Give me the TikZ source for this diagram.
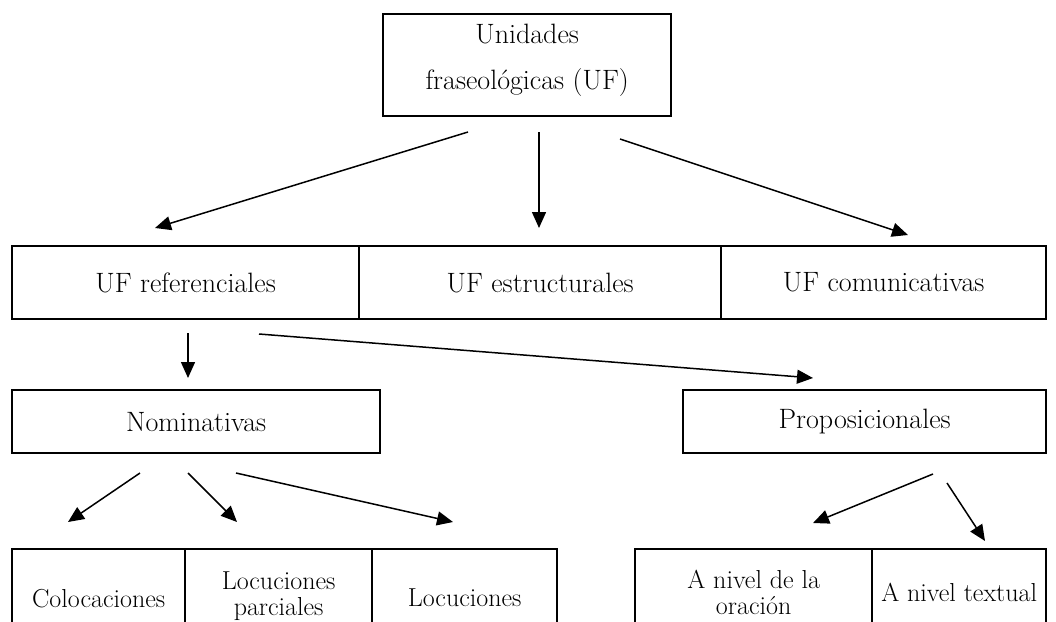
\documentclass[tikz,border=0pt]{standalone}
\usetikzlibrary{arrows.meta}

\tikzset{
  caja/.style={draw,line width=2.3pt,anchor=north west,inner sep=0pt,align=center,
    font=\fontsize{28}{25}\selectfont},
  cajita/.style={caja,font=\fontsize{26}{26}\selectfont},
  flecha/.style={-{Triangle[length=16pt,width=14pt]},line width=1.5pt}
}

\begin{document}
\begin{tikzpicture}[x=1pt,y=-1pt]
      \useasboundingbox (0,0) rectangle (1056,621);
      % Draw top box
      \node (uf) [caja,minimum width=288pt,minimum height=102pt] at (382,13)
      {Unidades\\[21pt]fraseológicas (UF)\rule[-17pt]{0pt}{1pt}};
      % Draw second row
      \node (ref) [caja,minimum width=347pt,minimum height=73pt] at (11,245) {UF referenciales};
      \node (est) [caja,minimum width=362pt,minimum height=73pt] at (358,245) {UF estructurales};
      \node (com) [caja,minimum width=325pt,minimum height=73pt] at (720,245) {UF comunicativas};
      % Draw third row
      \node (nom) [caja,minimum width=368pt,minimum height=63pt] at (11,389) {Nominativas};
      \node (pro) [caja,minimum width=363pt,minimum height=63pt] at (682,389) {Proposicionales};
      % Draw bottom row
      \node (col) [cajita,minimum width=173pt,minimum height=98pt] at (11,548) {Colocaciones};
      \node (lpa) [cajita,minimum width=187pt,minimum height=94pt] at (184,548) {Locuciones\\parciales};
      \node (loc) [cajita,minimum width=185pt,minimum height=98pt] at (371,548) {Locuciones};
      \node (ora) [cajita,minimum width=237pt,minimum height=86pt] at (634,548) {A nivel de la\\oración};
      \node (tex) [cajita,minimum width=174pt,minimum height=86pt] at (871,548) {A nivel textual};
      % Draw the box sides below the cut
      \draw[line width=2.3pt] (ora.south west) -- +(0,30) (ora.south east) -- +(0,30)
        (tex.south east) -- +(0,30) (lpa.south west) -- +(0,30) (lpa.south east) -- +(0,30);
      % Draw the arrow ends
      \coordinate (a1) at (468,132); \coordinate (a1e) at (155,228);
      \coordinate (a2) at (539,132); \coordinate (a2e) at (539,228);
      \coordinate (a3) at (620,139); \coordinate (a3e) at (908,235);
      \coordinate (b1) at (188,333); \coordinate (b1e) at (188,378);
      \coordinate (b2) at (259,334); \coordinate (b2e) at (813,378);
      \coordinate (c1) at (140,473); \coordinate (c1e) at (68,522);
      \coordinate (c2) at (188,473); \coordinate (c2e) at (237,522);
      \coordinate (c3) at (236,473); \coordinate (c3e) at (453,522);
      \coordinate (d1) at (933,474); \coordinate (d1e) at (813,523);
      \coordinate (d2) at (947,483); \coordinate (d2e) at (985,541);
      % Draw the arrows
      \draw[flecha] (a1) -- (a1e);
      \draw[flecha] (a2) -- (a2e);
      \draw[flecha] (a3) -- (a3e);
      \draw[flecha] (b1) -- (b1e);
      \draw[flecha] (b2) -- (b2e);
      \draw[flecha] (c1) -- (c1e);
      \draw[flecha] (c2) -- (c2e);
      \draw[flecha] (c3) -- (c3e);
      \draw[flecha] (d1) -- (d1e);
      \draw[flecha] (d2) -- (d2e);
    \end{tikzpicture}
\end{document}
